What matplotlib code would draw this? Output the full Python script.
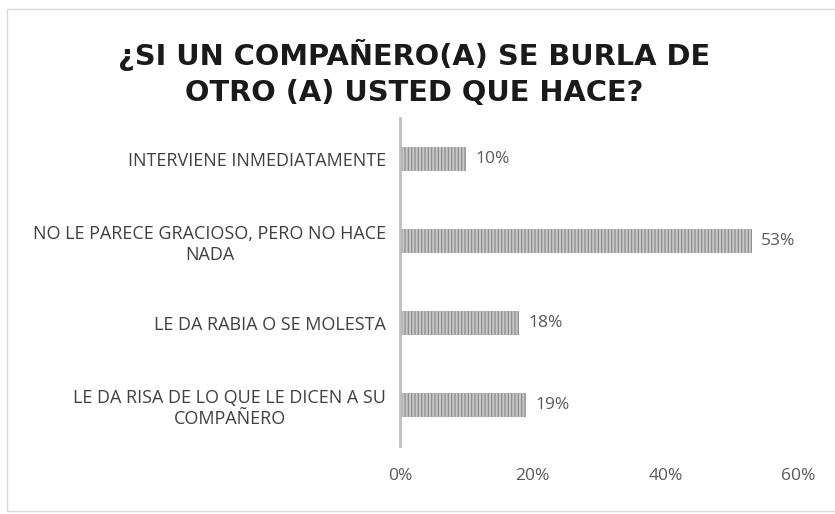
import matplotlib.pyplot as plt
from matplotlib.patches import Rectangle

# ── Data ──────────────────────────────────────────────────────────────────────
CATEGORIES = [
    "LE DA RISA DE LO QUE LE DICEN A SU\nCOMPAÑERO",
    "LE DA RABIA O SE MOLESTA",
    "NO LE PARECE GRACIOSO, PERO NO HACE\nNADA",
    "INTERVIENE INMEDIATAMENTE",
]
VALUES = [19, 18, 53, 10]
X_TICKS = [0, 20, 40, 60]
TITLE = "¿SI UN COMPAÑERO(A) SE BURLA DE\nOTRO (A) USTED QUE HACE?"

# ── Style ─────────────────────────────────────────────────────────────────────
FONT = ["Open Sans", "DejaVu Sans"]
TEXT_DARK = "#404040"
TEXT_GRAY = "#595959"
BAR_FACE = "#c8c8c8"
BAR_HATCH = "#8c8c8c"

plt.rcParams["font.family"] = FONT
plt.rcParams["hatch.linewidth"] = 0.9

fig = plt.figure(figsize=(8.35, 5.14), dpi=100)
ax = fig.add_axes([400 / 835, 1 - 446 / 514, 398 / 835, 328 / 514])

ypos = range(len(CATEGORIES))
ax.barh(ypos, VALUES, height=0.3, color=BAR_FACE, edgecolor=BAR_HATCH,
        linewidth=0, hatch="|||||")

for y, v in zip(ypos, VALUES):
    ax.text(v + 1.4, y, f"{v}%", va="center", ha="left",
            fontsize=12.5, color=TEXT_GRAY)

ax.set_xlim(0, 60)
ax.set_ylim(-0.5, len(CATEGORIES) - 0.5)
ax.set_xticks(X_TICKS)
ax.set_xticklabels([f"{t}%" for t in X_TICKS], fontsize=12.5, color=TEXT_GRAY)
ax.set_yticks(list(ypos))
ax.set_yticklabels(CATEGORIES, fontsize=13, color=TEXT_DARK,
                   multialignment="center", linespacing=1.2)
ax.tick_params(axis="x", length=0, pad=16)
ax.tick_params(axis="y", length=0, pad=10)

for side in ["top", "right", "bottom"]:
    ax.spines[side].set_visible(False)
ax.spines["left"].set_color("#bfbfbf")
ax.spines["left"].set_linewidth(2)

fig.text(414 / 835, 1 - 73 / 514, TITLE, ha="center", va="center",
         fontsize=20.8, fontweight="bold", color="#1a1a1a", linespacing=1.35,
         family="DejaVu Sans")

fig.add_artist(Rectangle((7 / 835, 3 / 514), 1.0, 1 - 12 / 514,
                         transform=fig.transFigure, fill=False,
                         edgecolor="#d9d9d9", linewidth=1))

fig.savefig("out.png", dpi=100)
